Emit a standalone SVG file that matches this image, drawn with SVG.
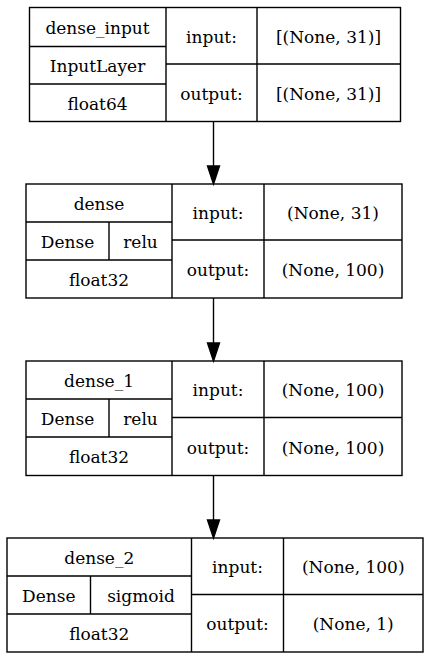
<svg xmlns="http://www.w3.org/2000/svg" width="428" height="660" viewBox="0 0 428 660">
  <style>
    .box { fill: none; stroke: #000; stroke-width: 1.4; }
    text { font-family: "DejaVu Serif", serif; font-size: 17px; text-anchor: middle; fill: #000; }
    .edge { stroke: #000; stroke-width: 1.4; fill: none; }
    .head { fill: #000; stroke: #000; stroke-width: 1.4; }
  </style>
  <rect width="428" height="660" fill="#fff"/>

  <!-- connectors -->
  <g id="edges">
    <line class="edge" x1="213.5" y1="121.5" x2="213.5" y2="167"/>
    <polygon class="head" points="207.5,166 219.5,166 213.5,184"/>
    <line class="edge" x1="213.5" y1="298" x2="213.5" y2="344"/>
    <polygon class="head" points="207.5,343 219.5,343 213.5,361"/>
    <line class="edge" x1="213.5" y1="475.5" x2="213.5" y2="521"/>
    <polygon class="head" points="207.5,520 219.5,520 213.5,538"/>
  </g>

  <!-- dense_input -->
  <g id="dense_input">
    <rect class="box" x="29.5" y="7.5" width="371" height="114"/>
    <path class="box" d="M166,7.5V121.5M257,7.5V121.5M29.5,46.5H166M29.5,84H166M166,64H400.5"/>
    <text x="97.5" y="34">dense_input</text>
    <text x="97.5" y="72">InputLayer</text>
    <text x="97.5" y="110">float64</text>
    <text x="211.5" y="42.5">input:</text>
    <text x="211.5" y="100">output:</text>
    <text x="328.5" y="42.5">[(None, 31)]</text>
    <text x="328.5" y="100">[(None, 31)]</text>
  </g>

  <!-- dense -->
  <g id="dense">
    <rect class="box" x="26" y="184" width="376" height="114"/>
    <path class="box" d="M172,184V298M264,184V298M26,222H172M26,260H172M109,222V260M172,240H402"/>
    <text x="99" y="210">dense</text>
    <text x="67.5" y="248">Dense</text>
    <text x="140.5" y="248">relu</text>
    <text x="99" y="286">float32</text>
    <text x="218" y="219">input:</text>
    <text x="218" y="276">output:</text>
    <text x="333" y="219">(None, 31)</text>
    <text x="333" y="276">(None, 100)</text>
  </g>

  <!-- dense_1 -->
  <g id="dense_1">
    <rect class="box" x="26" y="361" width="376" height="114.5"/>
    <path class="box" d="M172,361V475.5M264,361V475.5M26,399H172M26,437H172M109,399V437M172,417.5H402"/>
    <text x="99" y="387">dense_1</text>
    <text x="67.5" y="425">Dense</text>
    <text x="140.5" y="425">relu</text>
    <text x="99" y="463">float32</text>
    <text x="218" y="396">input:</text>
    <text x="218" y="453.5">output:</text>
    <text x="333" y="396">(None, 100)</text>
    <text x="333" y="453.5">(None, 100)</text>
  </g>

  <!-- dense_2 -->
  <g id="dense_2">
    <rect class="box" x="7" y="538" width="416" height="114"/>
    <path class="box" d="M191.5,538V652M283.5,538V652M7,576H191.5M7,614H191.5M90.5,576V614M191.5,594.5H423"/>
    <text x="99.25" y="564">dense_2</text>
    <text x="48.75" y="602">Dense</text>
    <text x="141" y="602">sigmoid</text>
    <text x="99.25" y="640">float32</text>
    <text x="237.5" y="573">input:</text>
    <text x="237.5" y="630">output:</text>
    <text x="353.25" y="573">(None, 100)</text>
    <text x="353.25" y="630">(None, 1)</text>
  </g>
</svg>
